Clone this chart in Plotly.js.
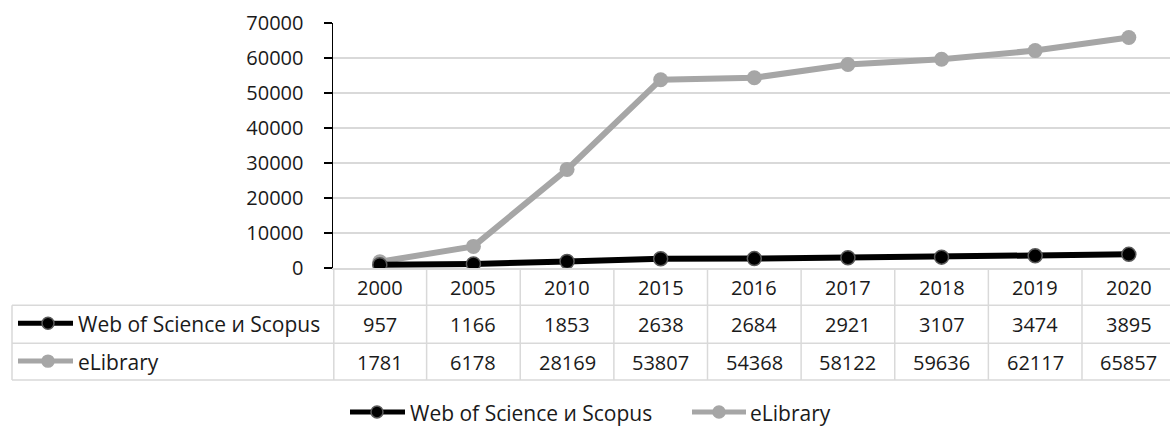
<!DOCTYPE html>
<html>
<head>
<meta charset="utf-8">
<script src="https://cdn.plot.ly/plotly-3.0.1.min.js"></script>
<style>html,body{margin:0;padding:0;background:#fff;}#chart{width:1170px;height:427px;}</style>
</head>
<body>
<div id="chart"></div>
<script>
// ---- data ----
var years = ['2000', '2005', '2010', '2015', '2016', '2017', '2018', '2019', '2020'];
var wosValues = [957, 1166, 1853, 2638, 2684, 2921, 3107, 3474, 3895];
var elibValues = [1781, 6178, 28169, 53807, 54368, 58122, 59636, 62117, 65857];
var seriesNames = ['Web of Science и Scopus', 'eLibrary'];
var yTicks = [0, 10000, 20000, 30000, 40000, 50000, 60000, 70000];

// ---- styling / layout constants ----
var W = 1170, Hh = 427;
var L = 333, R = 0, T = 22.5, B = 268.5;
var PH = B - T, PW = W - L - R;
var FONT = '"Open Sans", "Noto Sans", sans-serif';
var FS = 20, FSL = 21;
var TXT = '#1a1a1a';
var GRID = '#d9d9d9';
var BLACK = '#000000';
var GRAY = '#a6a6a6';
function py(p) { return (B - p) / PH; }      // pixel y -> paper y
function px(p) { return (p - L) / PW; }      // pixel x -> paper x

var traces = [
  {x: years.map(function (d, i) { return i; }), y: elibValues, name: seriesNames[1], type: 'scatter', mode: 'lines+markers',
   line: {color: GRAY, width: 6}, marker: {color: GRAY, size: 15}, showlegend: false, hoverinfo: 'skip'},
  {x: years.map(function (d, i) { return i; }), y: wosValues, name: seriesNames[0], type: 'scatter', mode: 'lines+markers',
   line: {color: BLACK, width: 6}, marker: {color: BLACK, size: 14, line: {color: '#595959', width: 1.5}}, showlegend: false, hoverinfo: 'skip'}
];

var shapes = [];
var annotations = [];

// table rows (pixel y)
var headerTop = 269, row1Top = 306, row2Top = 344, tableBottom = 381, tableLeft = 12;
function hline(y, x0p) {
  shapes.push({type: 'line', xref: 'paper', yref: 'paper', x0: px(x0p), x1: 1, y0: py(y), y1: py(y), line: {color: GRID, width: 1.5}});
}
hline(row1Top, tableLeft);
hline(row2Top, tableLeft);
hline(tableBottom, tableLeft);
shapes.push({type: 'line', xref: 'paper', yref: 'paper', x0: px(tableLeft), x1: px(tableLeft), y0: py(row1Top), y1: py(tableBottom), line: {color: GRID, width: 1.5}});
shapes.push({type: 'line', xref: 'paper', yref: 'paper', x0: px(L + 0.8), x1: px(L + 0.8), y0: py(headerTop), y1: py(tableBottom), line: {color: GRID, width: 1.5}});
for (var i = 1; i < years.length; i++) {
  shapes.push({type: 'line', xref: 'x', yref: 'paper', x0: i - 0.5, x1: i - 0.5, y0: py(headerTop), y1: py(tableBottom), line: {color: GRID, width: 1.5}});
}
var rows = [wosValues, elibValues];
var rowCenters = [325, 363];
years.forEach(function (yr, i) {
  annotations.push({xref: 'x', yref: 'paper', x: i, y: py(288), text: yr, showarrow: false, xanchor: 'center', yanchor: 'middle', font: {family: FONT, size: FS, color: TXT}});
  rows.forEach(function (vals, r) {
    annotations.push({xref: 'x', yref: 'paper', x: i, y: py(rowCenters[r]), text: String(vals[i]), showarrow: false, xanchor: 'center', yanchor: 'middle', font: {family: FONT, size: FS, color: TXT}});
  });
});
var keyStyles = [
  {line: BLACK, fill: BLACK, outline: '#595959'},
  {line: GRAY, fill: GRAY, outline: GRAY}
];
function legendKey(x0, x1, cx, cy, st, r) {
  shapes.push({type: 'line', xref: 'paper', yref: 'paper', x0: px(x0), x1: px(x1), y0: py(cy), y1: py(cy), line: {color: st.line, width: 5}});
  shapes.push({type: 'circle', xref: 'paper', yref: 'paper', x0: px(cx - r), x1: px(cx + r), y0: py(cy + r), y1: py(cy - r), fillcolor: st.fill, line: {color: st.outline, width: 1.5}});
}
seriesNames.forEach(function (nm, r) {
  var cy = rowCenters[r] - 1;
  legendKey(18, 73, 48, cy, keyStyles[r], 6);
  annotations.push({xref: 'paper', yref: 'paper', x: px(76), y: py(rowCenters[r]), text: nm, showarrow: false, xanchor: 'left', yanchor: 'middle', font: {family: FONT, size: FSL, color: TXT}});
});
var legItems = [{x0: 350, x1: 405, cx: 377, tx: 408}, {x0: 692, x1: 746, cx: 719, tx: 748}];
seriesNames.forEach(function (nm, r) {
  var it = legItems[r];
  legendKey(it.x0, it.x1, it.cx, 413, keyStyles[r], 6);
  annotations.push({xref: 'paper', yref: 'paper', x: px(it.tx), y: py(414), text: nm, showarrow: false, xanchor: 'left', yanchor: 'middle', font: {family: FONT, size: FSL, color: TXT}});
});

var layout = {
  width: W, height: Hh,
  margin: {l: L, r: R, t: T, b: Hh - B, pad: 0},
  paper_bgcolor: '#fff', plot_bgcolor: '#fff',
  font: {family: FONT, size: FS, color: TXT},
  xaxis: {range: [-0.5, 8.44], showgrid: false, zeroline: false, showticklabels: false, ticks: '',
          showline: true, linecolor: GRID, linewidth: 1.5, fixedrange: true},
  yaxis: {range: [0, 70000], tickvals: yTicks, ticktext: yTicks.map(String), showgrid: true, gridcolor: GRID, gridwidth: 1.5,
          zeroline: false, showline: true, linecolor: BLACK, linewidth: 1.5, ticks: 'outside', ticklen: 8, tickcolor: BLACK, tickwidth: 1.5,
          ticklabelstandoff: 16, tickfont: {family: FONT, size: FS, color: TXT}, fixedrange: true},
  shapes: shapes,
  annotations: annotations,
  showlegend: false
};
Plotly.newPlot('chart', traces, layout, {displayModeBar: false, staticPlot: true});
</script>
</body>
</html>
